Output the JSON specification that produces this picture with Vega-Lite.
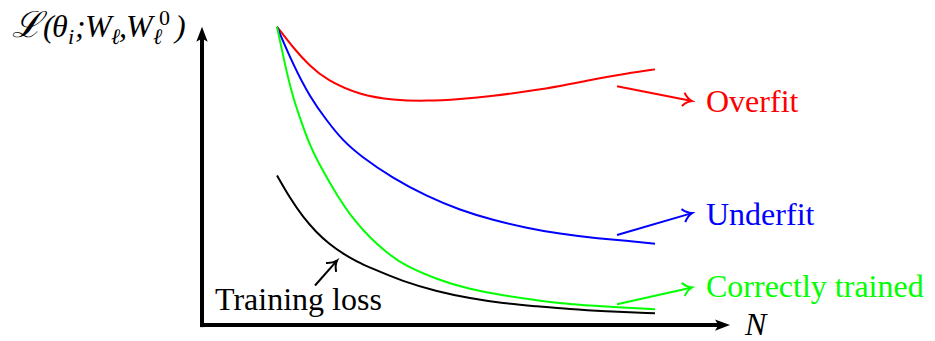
{
  "$schema": "https://vega.github.io/schema/vega-lite/v6.json",
  "width": 935,
  "height": 341,
  "autosize": {"type": "fit", "contains": "padding"},
  "padding": 0,
  "background": "white",
  "config": {"view": {"stroke": null}},
  "datasets": {
    "curves": [
      {"series": "overfit", "N": 75, "L": 301}, {"series": "overfit", "N": 91, "L": 280}, {"series": "overfit", "N": 108, "L": 261}, {"series": "overfit", "N": 125, "L": 247}, {"series": "overfit", "N": 158, "L": 232}, {"series": "overfit", "N": 191, "L": 227}, {"series": "overfit", "N": 225, "L": 226}, {"series": "overfit", "N": 258, "L": 228}, {"series": "overfit", "N": 291, "L": 231}, {"series": "overfit", "N": 325, "L": 236}, {"series": "overfit", "N": 358, "L": 241}, {"series": "overfit", "N": 391, "L": 248}, {"series": "overfit", "N": 425, "L": 254}, {"series": "overfit", "N": 453, "L": 258},
      {"series": "underfit", "N": 75, "L": 301}, {"series": "underfit", "N": 91, "L": 263}, {"series": "underfit", "N": 108, "L": 230}, {"series": "underfit", "N": 125, "L": 206}, {"series": "underfit", "N": 141, "L": 186}, {"series": "underfit", "N": 158, "L": 171}, {"series": "underfit", "N": 191, "L": 148}, {"series": "underfit", "N": 225, "L": 130}, {"series": "underfit", "N": 258, "L": 116}, {"series": "underfit", "N": 291, "L": 106}, {"series": "underfit", "N": 325, "L": 98}, {"series": "underfit", "N": 358, "L": 92}, {"series": "underfit", "N": 391, "L": 88}, {"series": "underfit", "N": 425, "L": 85}, {"series": "underfit", "N": 453, "L": 82},
      {"series": "correct", "N": 75, "L": 301}, {"series": "correct", "N": 79, "L": 282}, {"series": "correct", "N": 83, "L": 263}, {"series": "correct", "N": 87, "L": 246}, {"series": "correct", "N": 91, "L": 230}, {"series": "correct", "N": 100, "L": 203}, {"series": "correct", "N": 108, "L": 181}, {"series": "correct", "N": 120, "L": 157}, {"series": "correct", "N": 135, "L": 131}, {"series": "correct", "N": 151, "L": 107}, {"series": "correct", "N": 168, "L": 88}, {"series": "correct", "N": 185, "L": 73}, {"series": "correct", "N": 201, "L": 61}, {"series": "correct", "N": 235, "L": 46}, {"series": "correct", "N": 268, "L": 36}, {"series": "correct", "N": 301, "L": 30}, {"series": "correct", "N": 335, "L": 25}, {"series": "correct", "N": 368, "L": 21}, {"series": "correct", "N": 401, "L": 19}, {"series": "correct", "N": 453, "L": 16},
      {"series": "train", "N": 75, "L": 151}, {"series": "train", "N": 88, "L": 128}, {"series": "train", "N": 101, "L": 109}, {"series": "train", "N": 114, "L": 94}, {"series": "train", "N": 127, "L": 82}, {"series": "train", "N": 141, "L": 72}, {"series": "train", "N": 155, "L": 64}, {"series": "train", "N": 168, "L": 58}, {"series": "train", "N": 201, "L": 44}, {"series": "train", "N": 235, "L": 34}, {"series": "train", "N": 268, "L": 27}, {"series": "train", "N": 301, "L": 22}, {"series": "train", "N": 335, "L": 19}, {"series": "train", "N": 368, "L": 16}, {"series": "train", "N": 401, "L": 14}, {"series": "train", "N": 453, "L": 12}
    ],
    "arrows": [
      {"series": "overfit", "N": 415, "L": 241, "N2": 490, "L2": 226},
      {"series": "underfit", "N": 415, "L": 91, "N2": 490, "L2": 113},
      {"series": "correct", "N": 415, "L": 21, "N2": 490, "L2": 38},
      {"series": "train", "N": 113, "L": 40, "N2": 135, "L2": 65}
    ],
    "labels": [
      {"series": "overfit", "text": "Overfit", "N": 504, "L": 215},
      {"series": "underfit", "text": "Underfit", "N": 504, "L": 101},
      {"series": "correct", "text": "Correctly trained", "N": 504, "L": 28},
      {"series": "train", "text": "Training loss", "N": 13, "L": 15}
    ],
    "axes": [
      {"axis": "y", "N": 0, "L": 0, "N2": 0, "L2": 292},
      {"axis": "x", "N": 0, "L": 0, "N2": 518, "L2": 0}
    ],
    "axisHeads": [
      {"axis": "y", "N": 0, "L": 301},
      {"axis": "x", "N": 528, "L": 0}
    ],
    "ylabel": [
      {"part": "script", "text": "ℒ", "N": -190, "L": 291},
      {"part": "main", "text": "(", "N": -159, "L": 291},
      {"part": "main", "text": "θ", "N": -150, "L": 291},
      {"part": "sub", "text": "i", "N": -134, "L": 284},
      {"part": "main", "text": ";", "N": -127, "L": 291},
      {"part": "main", "text": "W", "N": -117, "L": 291},
      {"part": "sub", "text": "ℓ", "N": -91, "L": 284},
      {"part": "main", "text": ",", "N": -83, "L": 291},
      {"part": "main", "text": "W", "N": -76, "L": 291},
      {"part": "sub", "text": "ℓ", "N": -49, "L": 284},
      {"part": "sup", "text": "0", "N": -43, "L": 303},
      {"part": "main", "text": ")", "N": -27, "L": 291}
    ],
    "xlabel": [
      {"text": "N", "N": 543, "L": -10}
    ]
  },
  "encoding": {
    "x": {"field": "N", "type": "quantitative", "scale": {"domain": [-202, 733], "nice": false, "zero": false}, "axis": null},
    "y": {"field": "L", "type": "quantitative", "scale": {"domain": [-13, 328], "nice": false, "zero": false}, "axis": null}
  },
  "layer": [
    {
      "data": {"name": "axes"},
      "mark": {"type": "rule", "strokeWidth": 4, "color": "black", "strokeCap": "butt"},
      "encoding": {
        "x2": {"field": "N2"},
        "y2": {"field": "L2"}
      }
    },
    {
      "data": {"name": "axes"},
      "transform": [{"filter": "datum.axis == 'x'"}],
      "mark": {"type": "point", "shape": "square", "filled": true, "color": "black", "size": 16, "opacity": 1}
    },
    {
      "data": {"name": "axisHeads"},
      "transform": [{"filter": "datum.axis == 'y'"}],
      "mark": {"type": "point", "shape": "M0,0 L-1,-0.38 L-0.78,0 L-1,0.38 Z", "filled": true, "color": "black", "opacity": 1, "size": 900, "angle": -90}
    },
    {
      "data": {"name": "axisHeads"},
      "transform": [{"filter": "datum.axis == 'x'"}],
      "mark": {"type": "point", "shape": "M0,0 L-1,-0.38 L-0.78,0 L-1,0.38 Z", "filled": true, "color": "black", "opacity": 1, "size": 900, "angle": 0}
    },
    {
      "data": {"name": "curves"},
      "mark": {"type": "line", "interpolate": "basis", "strokeWidth": 2},
      "encoding": {
        "color": {"field": "series", "type": "nominal", "scale": {"domain": ["overfit", "underfit", "correct", "train"], "range": ["#ff0000", "#0000ff", "#00ff00", "#000000"]}, "legend": null},
        "order": {"field": "N", "type": "quantitative"}
      }
    },
    {
      "data": {"name": "arrows"},
      "mark": {"type": "rule", "strokeWidth": 2},
      "encoding": {
        "x2": {"field": "N2"},
        "y2": {"field": "L2"},
        "color": {"field": "series", "type": "nominal", "legend": null}
      }
    },
    {
      "data": {"name": "arrows"},
      "transform": [{"calculate": "atan2(-(datum.L2 - datum.L), datum.N2 - datum.N) * 180 / PI", "as": "heading"}],
      "mark": {"type": "point", "shape": "M-1,-0.75 C-0.6,-0.25 -0.25,-0.07 0,0 C-0.25,0.07 -0.6,0.25 -1,0.75", "filled": false, "strokeWidth": 2, "size": 324, "opacity": 1},
      "encoding": {
        "x": {"field": "N2", "type": "quantitative"},
        "y": {"field": "L2", "type": "quantitative"},
        "angle": {"field": "heading", "type": "quantitative", "scale": null},
        "color": {"field": "series", "type": "nominal", "legend": null}
      }
    },
    {
      "data": {"name": "labels"},
      "mark": {"type": "text", "font": "Liberation Serif", "fontSize": 32, "align": "left", "baseline": "alphabetic"},
      "encoding": {
        "text": {"field": "text"},
        "color": {"field": "series", "type": "nominal", "legend": null}
      }
    },
    {
      "data": {"name": "ylabel"},
      "transform": [{"filter": "datum.part == 'script'"}],
      "mark": {"type": "text", "font": "Liberation Serif", "fontSize": 36, "fontStyle": "italic", "align": "left", "baseline": "alphabetic", "color": "black"},
      "encoding": {"text": {"field": "text"}}
    },
    {
      "data": {"name": "ylabel"},
      "transform": [{"filter": "datum.part == 'main'"}],
      "mark": {"type": "text", "font": "Liberation Serif", "fontSize": 32, "fontStyle": "italic", "align": "left", "baseline": "alphabetic", "color": "black"},
      "encoding": {"text": {"field": "text"}}
    },
    {
      "data": {"name": "ylabel"},
      "transform": [{"filter": "datum.part == 'sub'"}],
      "mark": {"type": "text", "font": "Liberation Serif", "fontSize": 22, "fontStyle": "italic", "align": "left", "baseline": "alphabetic", "color": "black"},
      "encoding": {"text": {"field": "text"}}
    },
    {
      "data": {"name": "ylabel"},
      "transform": [{"filter": "datum.part == 'sup'"}],
      "mark": {"type": "text", "font": "Liberation Serif", "fontSize": 22, "align": "left", "baseline": "alphabetic", "color": "black"},
      "encoding": {"text": {"field": "text"}}
    },
    {
      "data": {"name": "xlabel"},
      "mark": {"type": "text", "font": "Liberation Serif", "fontSize": 32, "fontStyle": "italic", "align": "left", "baseline": "alphabetic", "color": "black"},
      "encoding": {"text": {"field": "text"}}
    }
  ]
}
